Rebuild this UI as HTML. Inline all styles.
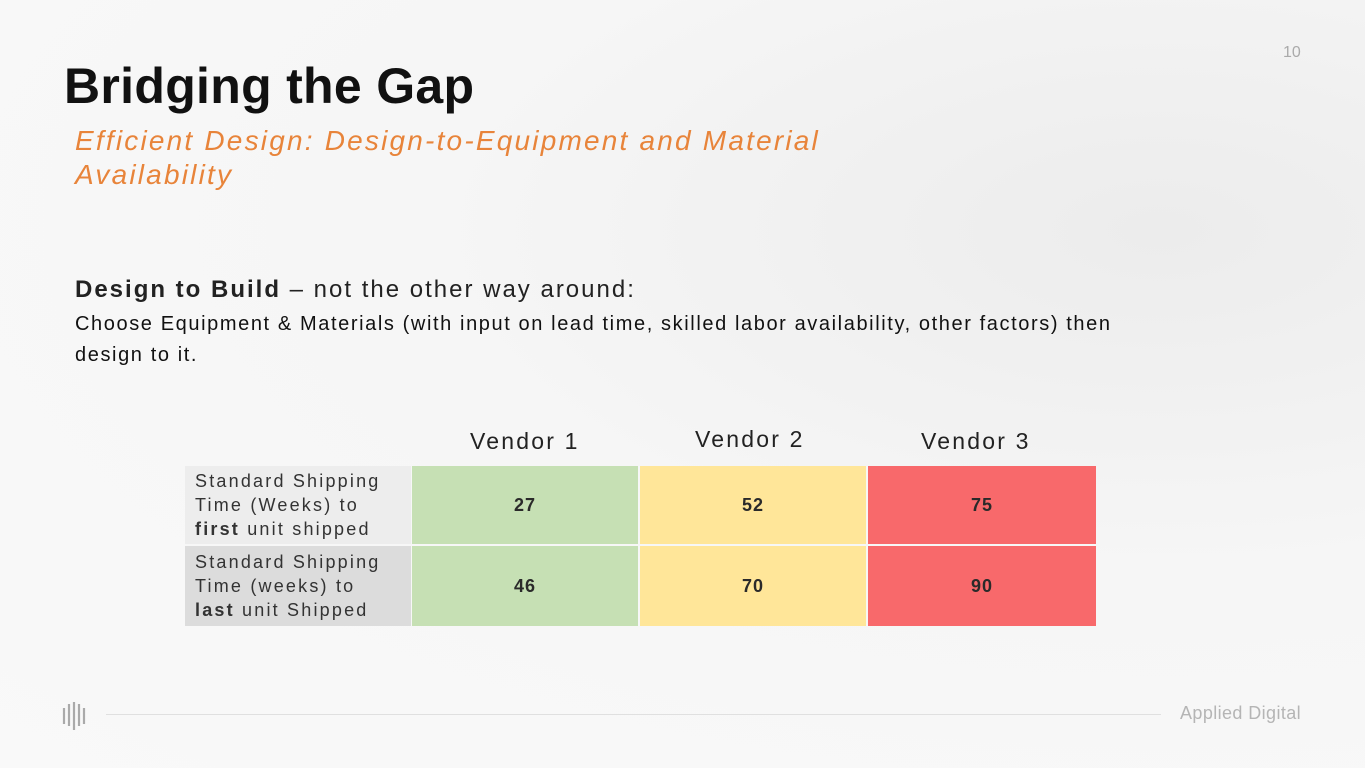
<!DOCTYPE html>
<html><head><meta charset="utf-8"><style>
html,body{margin:0;padding:0}
body{width:1365px;height:768px;position:relative;overflow:hidden;font-family:"Liberation Sans",sans-serif;
background:radial-gradient(ellipse at 85% 30%,#ececec 0%,#f6f6f6 45%,#f9f9f9 100%);}
.a{position:absolute;white-space:nowrap}
table{position:absolute;left:185px;top:466px;border-collapse:separate;border-spacing:0;table-layout:fixed;width:910px}
td{padding:0;height:80px;box-sizing:border-box}
td.l{width:227px;padding-left:10px;font-size:18px;line-height:24px;color:#333;vertical-align:middle;letter-spacing:2.2px;border-right:1px solid #f7f7f7}
td.v{width:228px;text-align:center;font-weight:bold;font-size:18px;color:#2a2a2a;letter-spacing:1px;border-right:2px solid #f7f7f7}
tr:first-child td{border-bottom:2px solid #f7f7f7}
.g{background:#c6e0b4}.y{background:#ffe699}.r{background:#f8696b}
.vn{font-size:23px;color:#222;letter-spacing:2.2px}
</style></head><body>
<div class="a" style="left:1283px;top:44px;font-size:16px;color:#aaa">10</div>
<div class="a" style="left:64px;top:57px;font-size:50px;font-weight:bold;color:#111;letter-spacing:0.3px">Bridging the Gap</div>
<div class="a" style="left:75px;top:124px;font-size:28px;font-style:italic;color:#e8843a;line-height:34px;letter-spacing:2.2px">Efficient Design: Design-to-Equipment and Material<br>Availability</div>
<div class="a" style="left:75px;top:276px;font-size:24px;color:#222;letter-spacing:2px"><b>Design to Build</b> – not the other way around:</div>
<div class="a" style="left:75px;top:309px;font-size:20px;color:#111;line-height:31px;letter-spacing:1.6px">Choose Equipment &amp; Materials (with input on lead time, skilled labor availability, other factors) then<br>design to it.</div>
<div class="a vn" style="left:470px;top:428px">Vendor 1</div>
<div class="a vn" style="left:695px;top:426px">Vendor 2</div>
<div class="a vn" style="left:921px;top:428px">Vendor 3</div>
<table>
<tr><td class="l" style="background:#ededed">Standard Shipping<br>Time (Weeks) to<br><b>first</b> unit shipped</td><td class="v g">27</td><td class="v y">52</td><td class="v r" style="border-right:0">75</td></tr>
<tr><td class="l" style="background:#dcdcdc">Standard Shipping<br>Time (weeks) to<br><b>last</b> unit Shipped</td><td class="v g">46</td><td class="v y">70</td><td class="v r" style="border-right:0">90</td></tr>
</table>
<svg class="a" style="left:62px;top:700px" width="26" height="32">
<g stroke="#aaa" stroke-width="2.2">
<line x1="2" y1="8" x2="2" y2="24"/><line x1="7" y1="4" x2="7" y2="26"/><line x1="12" y1="2" x2="12" y2="30"/><line x1="17" y1="4" x2="17" y2="26"/><line x1="22" y1="8" x2="22" y2="24"/>
</g></svg>
<div class="a" style="left:106px;top:714px;width:1055px;height:1px;background:#e0e0e0"></div>
<div class="a" style="left:1180px;top:703px;font-size:18px;color:#b5b5b5;letter-spacing:0.4px">Applied Digital</div>
</body></html>
